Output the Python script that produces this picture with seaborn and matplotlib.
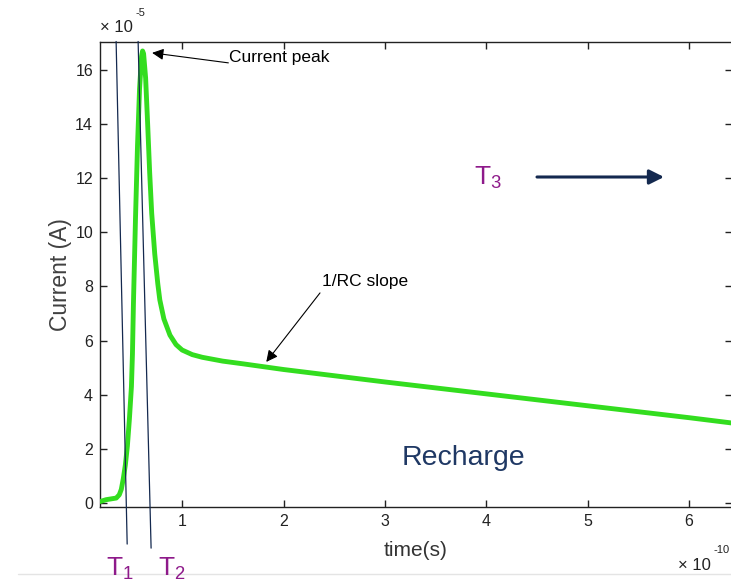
import numpy as np
import pandas as pd
import matplotlib
matplotlib.use("Agg")
import matplotlib.pyplot as plt
import seaborn as sns
from matplotlib.lines import Line2D

# --- data (time in units of 1e-10 s, current in units of 1e-5 A) ---
time_e10 = [0.19, 0.25, 0.30, 0.35, 0.38, 0.40, 0.42, 0.44, 0.46, 0.48,
            0.50, 0.51, 0.52, 0.54, 0.56, 0.58, 0.60, 0.61, 0.62, 0.64,
            0.66, 0.68, 0.70, 0.73, 0.76, 0.78, 0.82, 0.88, 0.94, 1.00,
            1.10, 1.20, 1.40, 1.60, 2.00, 2.50, 3.00, 3.50, 4.00, 4.50,
            5.00, 5.50, 6.00, 6.43]
current_e5 = [0.05, 0.12, 0.15, 0.18, 0.30, 0.50, 0.90, 1.40, 2.10, 3.10,
              4.30, 5.50, 7.40, 10.5, 13.2, 15.3, 16.5, 16.7, 16.6, 15.7,
              14.0, 12.2, 10.7, 9.20, 8.10, 7.50, 6.80, 6.20, 5.85, 5.65,
              5.48, 5.38, 5.24, 5.14, 4.93, 4.70, 4.47, 4.25, 4.03, 3.81,
              3.59, 3.37, 3.15, 2.95]

x_ticks = [1, 2, 3, 4, 5, 6]
y_ticks = [0, 2, 4, 6, 8, 10, 12, 14, 16]

# T1 / T2 marker lines (x, y pairs in data units)
t1_line_x = [0.349, 0.458]
t1_line_y = [17.05, -1.52]
t2_line_x = [0.566, 0.694]
t2_line_y = [17.05, -1.67]

df = pd.DataFrame({"time": time_e10, "current": current_e5})

sns.set_theme(style="ticks")
plt.rcParams["font.family"] = ["Liberation Sans", "DejaVu Sans"]

fig = plt.figure(figsize=(7.31, 5.87), dpi=100)
ax = fig.add_axes([0.1368, 0.1363, 0.8646, 0.7921])

sns.lineplot(data=df, x="time", y="current", ax=ax, color="#33dd1f",
             linewidth=3.5, zorder=3)

ax.set_xlim(0.19, 6.424)
ax.set_ylim(-0.15, 17.03)
ax.set_xticks(x_ticks)
ax.set_yticks(y_ticks)
ax.xaxis.set_ticks_position("both")
ax.yaxis.set_ticks_position("both")
ax.tick_params(direction="in", length=5, width=1.0, labelsize=11.5,
               colors="#222222", pad=5)
for s in ax.spines.values():
    s.set_color("#222222")
    s.set_linewidth(1.0)

ax.set_xlabel("time(s)", fontsize=15, color="#333333", labelpad=9)
ax.set_ylabel("Current (A)", fontsize=16.5, color="#404040", labelpad=2)

# multipliers
fig.text(100 / 731, 1 - 28 / 587, "× 10", fontsize=12, color="#222222",
         va="center", ha="left")
fig.text(135 / 731, 1 - 13 / 587, "-5", fontsize=8, color="#222222",
         va="center", ha="left")
fig.text(678 / 731, 1 - 565 / 587, "× 10", fontsize=12, color="#222222",
         va="center", ha="left")
fig.text(713 / 731, 1 - 550 / 587, "-10", fontsize=8, color="#222222",
         va="center", ha="left")

# T1 / T2 lines
navy = "#14294f"
ax.plot(t1_line_x, t1_line_y, color=navy, lw=0.9, clip_on=False, zorder=4)
ax.plot(t2_line_x, t2_line_y, color=navy, lw=0.9, clip_on=False, zorder=4)

purple = "#8e1a8a"
fig.text(120 / 731, 1 - 569 / 587, r"T$_\mathregular{1}$", fontsize=19,
         color=purple, ha="center", va="center")
fig.text(172 / 731, 1 - 569 / 587, r"T$_\mathregular{2}$", fontsize=19,
         color=purple, ha="center", va="center")
fig.text(488 / 731, 1 - 178 / 587, r"T$_\mathregular{3}$", fontsize=19,
         color=purple, ha="center", va="center")

ax.annotate("", xy=(664 / 731, 1 - 177 / 587), xytext=(537 / 731, 1 - 177 / 587),
            xycoords="figure fraction", textcoords="figure fraction",
            arrowprops=dict(arrowstyle="-|>", color=navy, lw=2.2,
                            mutation_scale=22, shrinkA=0, shrinkB=0))

ax.text(463 / 731, 1 - 458 / 587, "Recharge", transform=fig.transFigure,
        fontsize=20.5, color="#1f3864", ha="center", va="center")

# annotations
ax.text(1.463, 16.45, "Current peak", fontsize=12.5, color="black",
        va="center", ha="left")
ax.annotate("", xy=(0.704, 16.63), xytext=(1.456, 16.26),
            arrowprops=dict(arrowstyle="-|>", color="black", lw=0.8,
                            mutation_scale=17, shrinkA=0, shrinkB=0))
ax.text(2.38, 8.2, "1/RC slope", fontsize=12.5, color="black",
        va="center", ha="left")
ax.annotate("", xy=(1.83, 5.21), xytext=(2.36, 7.76),
            arrowprops=dict(arrowstyle="-|>", color="black", lw=0.8,
                            mutation_scale=17, shrinkA=0, shrinkB=0))

fig.add_artist(Line2D([18 / 731, 1.0], [1 - 574 / 587, 1 - 574 / 587],
                      color="#e4e4e4", lw=1))

fig.savefig("out.png", dpi=100)
